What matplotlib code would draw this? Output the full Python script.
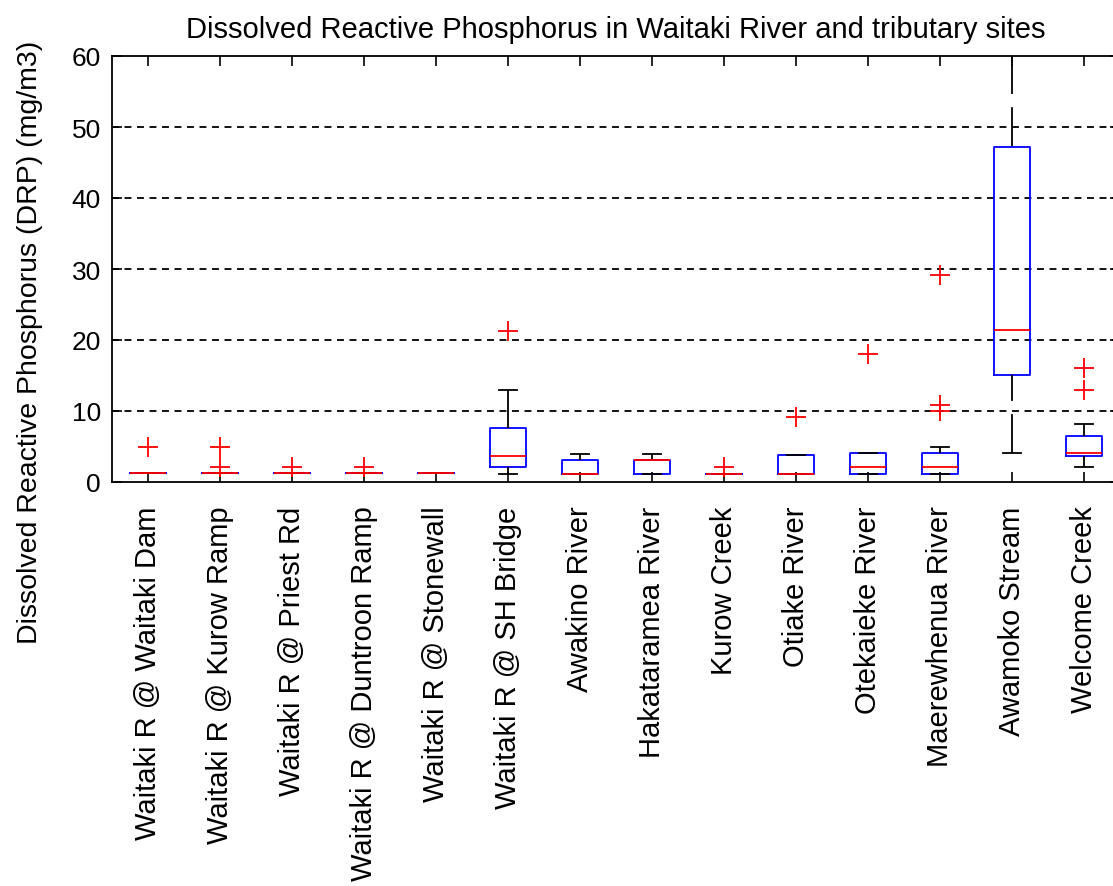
import matplotlib
matplotlib.use('Agg')
import matplotlib.pyplot as plt
from matplotlib import font_manager

# ---- data (mg/m3) ----
sites = ['Waitaki R @ Waitaki Dam', 'Waitaki R @ Kurow Ramp', 'Waitaki R @ Priest Rd',
         'Waitaki R @ Duntroon Ramp', 'Waitaki R @ Stonewall', 'Waitaki R @ SH Bridge',
         'Awakino River', 'Hakataramea River', 'Kurow Creek', 'Otiake River',
         'Otekaieke River', 'Maerewhenua River', 'Awamoko Stream', 'Welcome Creek']
q1 = [1.2, 1.2, 1.2, 1.2, 1.2, 2.1, 1.1, 1.1, 1.1, 1.1, 1.1, 1.1, 15.1, 3.7]
med = [1.2, 1.2, 1.2, 1.2, 1.2, 3.7, 1.1, 3.1, 1.1, 1.1, 2.1, 2.1, 21.4, 4.1]
q3 = [1.2, 1.2, 1.2, 1.2, 1.2, 7.6, 3.1, 3.1, 1.1, 3.8, 4.1, 4.1, 47.2, 6.5]
whislo = [1.2, 1.2, 1.2, 1.2, 1.2, 1.1, 1.1, 1.1, 1.1, 1.1, 1.1, 1.1, 4.1, 2.1]
whishi = [1.2, 1.2, 1.2, 1.2, 1.2, 13.0, 4.0, 4.0, 1.1, 3.8, 4.1, 5.0, 67.5, 8.2]
outliers = [[5.0], [5.0, 2.1], [2.1], [2.1], [], [21.3], [], [], [2.1], [9.2],
            [18.0], [10.0, 10.9, 29.1], [], [12.9, 16.1]]

# ---- font ----
names = {f.name for f in font_manager.fontManager.ttflist}
if 'Liberation Sans Narrow' in names:
    fam = ['Liberation Sans Narrow', 'DejaVu Sans']
else:
    fam = ['Liberation Sans', 'DejaVu Sans']
plt.rcParams['font.family'] = fam
plt.rcParams['font.size'] = 17.5
plt.rcParams['lines.scale_dashes'] = False

W, H = 1113, 887
fig = plt.figure(figsize=(W / 100, H / 100), dpi=100)
ax = fig.add_axes([112 / W, 1 - 483 / H, 1008 / W, 426 / H])

stats = []
for i in range(len(sites)):
    stats.append(dict(label=sites[i], q1=q1[i], med=med[i], q3=q3[i],
                      whislo=whislo[i], whishi=whishi[i], fliers=outliers[i]))

parts = ax.bxp(stats, widths=0.5, capwidths=0.25,
               boxprops=dict(color='blue', lw=1.3),
               medianprops=dict(color='red', lw=1.3),
               whiskerprops=dict(color='black', lw=1.3, linestyle=(0, (28, 9.5))),
               capprops=dict(color='black', lw=1.3),
               flierprops=dict(marker='+', markersize=14, markeredgecolor='red',
                               markeredgewidth=1.3, linestyle='none'))
# dash pattern starts at the whisker end, like the original
for wl in parts['whiskers']:
    xd, yd = wl.get_data()
    wl.set_data(xd[::-1], yd[::-1])

ax.set_xlim(0.5, len(sites) + 0.5)
ax.set_ylim(0, 60)
ax.set_yticks(range(0, 61, 10))
for y in range(10, 60, 10):
    ax.axhline(y, color='black', lw=1.3, linestyle=(0, (5, 4)), zorder=0)

ax.tick_params(direction='in', length=7, width=1.2, top=True, right=True)
ax.tick_params(axis='y', pad=8, labelsize=19)
ax.tick_params(axis='x', pad=17)
ax.set_xticklabels(sites, rotation=90, va='top', ha='center', fontsize=21)
for s in ax.spines.values():
    s.set_linewidth(1.3)

ax.set_title('Dissolved Reactive Phosphorus in Waitaki River and tributary sites', pad=14)
ax.set_ylabel('Dissolved Reactive Phosphorus (DRP) (mg/m3)', fontsize=20.5)
ax.yaxis.set_label_coords(-0.068, 0.33)

fig.savefig('out.png', dpi=100)
